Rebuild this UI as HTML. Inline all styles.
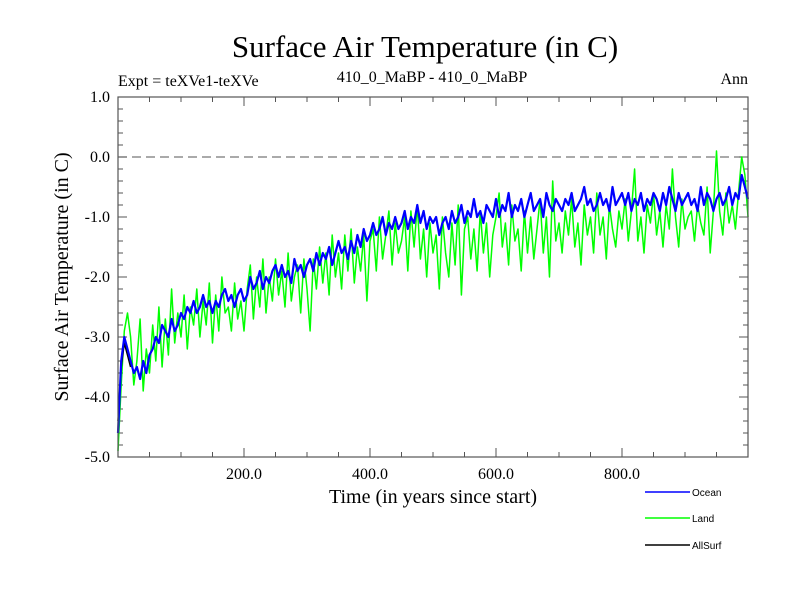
<!DOCTYPE html>
<html><head><meta charset="utf-8"><style>
body{margin:0;background:#fff;}
svg{display:block;font-family:"Liberation Serif",serif;}
</style></head><body>
<svg id="chart" width="800" height="600">
<rect width="800" height="600" fill="#fff"/>
<text x="425" y="57" font-size="31" text-anchor="middle">Surface Air Temperature (in C)</text>
<text x="118" y="86" font-size="16">Expt = teXVe1-teXVe</text>
<text x="432" y="82" font-size="16" text-anchor="middle">410_0_MaBP - 410_0_MaBP</text>
<text x="748" y="84" font-size="16" text-anchor="end">Ann</text>
<text x="433" y="503" font-size="20" text-anchor="middle">Time (in years since start)</text>
<text transform="translate(68,277) rotate(-90)" font-size="20" text-anchor="middle">Surface Air Temperature (in C)</text>
<g id="axes"></g>
<g id="series"></g>
<rect x="118" y="97" width="630" height="360" fill="none" stroke="#555" stroke-width="1.2"/>
<g font-family="Liberation Sans, sans-serif" font-size="10">
<g><line x1="645" y1="492" x2="690" y2="492" stroke="#0000ff" stroke-width="1.5"/><text x="692" y="496">Ocean</text></g>
<g><line x1="645" y1="518" x2="690" y2="518" stroke="#00ff00" stroke-width="1.5"/><text x="692" y="522">Land</text></g>
<g><line x1="645" y1="545" x2="690" y2="545" stroke="#000" stroke-width="1.5"/><text x="692" y="549">AllSurf</text></g>
</g>
</svg>
<script>
const xTicks=[200,400,600,800];
const xTickLabels=["200.0","400.0","600.0","800.0"];
const yTicks=[1,0,-1,-2,-3,-4,-5];
const yTickLabels=["1.0","0.0","-1.0","-2.0","-3.0","-4.0","-5.0"];
const yearStep=5;
const ocean=[-4.6,-3.4,-3.0,-3.2,-3.4,-3.6,-3.5,-3.7,-3.4,-3.6,-3.3,
-3.2,-3.0,-3.1,-2.8,-2.9,-3.0,-2.7,-2.9,-2.8,-2.6,
-2.7,-2.5,-2.6,-2.4,-2.6,-2.5,-2.3,-2.5,-2.4,-2.6,
-2.4,-2.5,-2.3,-2.2,-2.4,-2.3,-2.5,-2.3,-2.2,-2.4,
-2.3,-2.0,-2.2,-2.1,-1.9,-2.2,-2.0,-2.1,-1.9,-1.8,
-2.0,-1.8,-2.0,-1.9,-2.1,-1.7,-1.9,-1.8,-2.0,-1.8,
-1.7,-1.9,-1.6,-1.8,-1.6,-1.7,-1.5,-1.8,-1.6,-1.4,
-1.6,-1.5,-1.7,-1.4,-1.6,-1.3,-1.5,-1.2,-1.4,-1.3,
-1.1,-1.3,-1.2,-1.0,-1.3,-1.1,-1.2,-1.0,-1.2,-1.1,
-0.9,-1.2,-1.0,-1.1,-0.8,-1.1,-0.9,-1.2,-1.0,-1.1,
-1.0,-1.3,-1.1,-1.0,-1.2,-0.9,-1.1,-1.0,-0.8,-1.1,
-0.9,-1.0,-0.7,-1.0,-0.9,-1.1,-0.8,-0.9,-1.0,-0.7,
-1.0,-0.8,-0.9,-0.6,-1.0,-0.8,-0.9,-0.7,-1.0,-0.8,
-0.6,-0.9,-0.8,-0.7,-1.0,-0.6,-0.8,-0.9,-0.7,-0.8,
-0.9,-0.7,-0.8,-0.6,-0.9,-0.8,-0.7,-0.5,-0.8,-0.7,
-0.9,-0.8,-0.6,-0.8,-0.7,-0.9,-0.5,-0.8,-0.7,-0.6,
-0.8,-0.6,-0.9,-0.7,-0.8,-0.6,-0.9,-0.7,-0.8,-0.6,
-0.7,-0.9,-0.6,-0.8,-0.5,-0.7,-0.9,-0.6,-0.8,-0.7,
-0.6,-0.8,-0.7,-0.9,-0.5,-0.8,-0.6,-0.7,-0.9,-0.7,
-0.6,-0.8,-0.7,-0.5,-0.8,-0.6,-0.7,-0.3,-0.5,-0.7];
const land=[-4.9,-3.8,-2.9,-2.6,-3.0,-3.8,-3.4,-2.7,-3.9,-3.2,-3.6,
-2.8,-3.4,-2.5,-3.5,-2.7,-3.3,-2.2,-3.1,-2.6,-3.0,
-2.3,-3.2,-2.5,-2.8,-2.2,-3.0,-2.4,-2.8,-2.1,-3.1,
-2.3,-2.9,-2.0,-2.6,-2.5,-2.9,-2.1,-2.7,-2.4,-2.9,
-2.2,-1.8,-2.7,-2.0,-2.5,-1.7,-2.6,-2.0,-2.4,-1.7,
-2.3,-1.9,-2.5,-1.6,-2.4,-2.0,-1.8,-2.6,-1.7,-2.2,
-2.9,-1.7,-2.2,-1.5,-2.1,-1.6,-2.3,-1.3,-2.0,-1.6,
-2.2,-1.3,-1.9,-1.2,-2.1,-1.5,-1.9,-1.3,-2.4,-1.4,
-1.2,-1.9,-1.0,-1.7,-1.3,-0.9,-1.8,-1.1,-1.6,-1.4,
-1.0,-1.9,-0.9,-1.5,-0.8,-1.7,-1.2,-2.0,-1.1,-1.6,
-1.3,-2.2,-1.0,-1.6,-2.0,-1.1,-1.8,-0.8,-2.3,-1.2,
-1.0,-1.7,-1.2,-1.9,-0.9,-1.6,-1.1,-2.0,-1.3,-1.0,
-0.6,-1.5,-1.1,-1.8,-0.8,-1.4,-1.2,-1.9,-0.9,-1.6,
-1.0,-1.7,-1.2,-0.7,-1.6,-1.0,-2.0,-0.4,-1.4,-1.1,
-1.6,-0.9,-1.3,-0.7,-1.5,-1.1,-1.8,-0.8,-1.3,-1.0,
-1.6,-0.6,-1.3,-1.0,-1.7,-0.8,-1.2,-1.5,-0.9,-1.2,
-0.7,-1.4,-0.9,-0.2,-1.4,-1.0,-1.6,-0.8,-1.1,-0.6,
-1.3,-0.9,-1.5,-0.8,-1.2,-0.2,-1.0,-1.5,-0.7,-1.2,
-1.0,-0.9,-1.4,-0.8,-1.1,-1.3,-0.5,-1.6,-0.9,0.1,
-0.9,-1.3,-0.6,-1.1,-0.8,-1.2,-0.6,0.0,-0.3,-1.0];
const allSurf=[-4.4,-3.5,-3.1,-3.3,-3.5];

const X0=118,X1=748,Y0=97,Y1=457;
const xs=v=>X0+(v/1000)*(X1-X0);
const ys=v=>Y0+(1-v)/6*(Y1-Y0);
const NS="http://www.w3.org/2000/svg";
function mk(tag,attrs,parent){const e=document.createElementNS(NS,tag);for(const k in attrs)e.setAttribute(k,attrs[k]);parent.appendChild(e);return e;}
const axes=document.getElementById('axes');
const ser=document.getElementById('series');

// zero line
const z=mk('line',{x1:X0,x2:X1,y1:ys(0),y2:ys(0),stroke:'#777','stroke-width':1.2,'stroke-dasharray':'9,5'},axes);



// minor / major ticks
for(let v=50;v<1000;v+=50){
  const L=(v%200===0)?9:5;
  mk('line',{x1:xs(v),x2:xs(v),y1:Y1,y2:Y1-L,stroke:'#555'},axes);
  mk('line',{x1:xs(v),x2:xs(v),y1:Y0,y2:Y0+L,stroke:'#555'},axes);
}
for(let k=-24;k<=4;k++){
  const v=k/5;
  const L=(k%5===0)?9:5;
  mk('line',{x1:X0,x2:X0+L,y1:ys(v),y2:ys(v),stroke:'#555'},axes);
  mk('line',{x1:X1,x2:X1-L,y1:ys(v),y2:ys(v),stroke:'#555'},axes);
}
xTicks.forEach((v,i)=>{
  const t=mk('text',{x:xs(v),y:479,'font-size':16,'text-anchor':'middle'},axes);
  t.textContent=xTickLabels[i];
  
  
});
yTicks.forEach((v,i)=>{
  const t=mk('text',{x:110,y:ys(v)+5,'font-size':16,'text-anchor':'end'},axes);
  t.textContent=yTickLabels[i];
  
  
});

function pts(arr){return arr.map((v,i)=>xs(i*yearStep).toFixed(1)+','+ys(v).toFixed(1)).join(' ');}
const gl=mk('polyline',{points:pts(land),fill:'none',stroke:'#00ff00','stroke-width':1.5,'stroke-linejoin':'round'},ser);


const bl=mk('polyline',{points:pts(allSurf),fill:'none',stroke:'#000','stroke-width':1.5},ser);


const oc=mk('polyline',{points:pts(ocean),fill:'none',stroke:'#0000ff','stroke-width':2.2,'stroke-linejoin':'round'},ser);


</script>
</body></html>
